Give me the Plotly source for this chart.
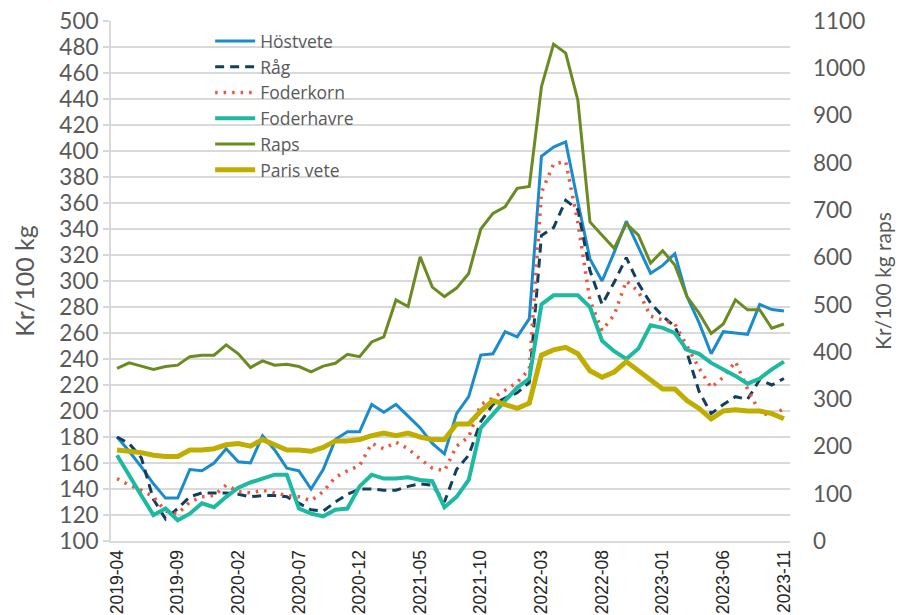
import pandas as pd
import plotly.graph_objects as go

months = [p.strftime("%Y-%m") for p in pd.period_range("2019-04", "2023-11", freq="M")]
tick_labels = ["2019-04", "2019-09", "2020-02", "2020-07", "2020-12", "2021-05",
               "2021-10", "2022-03", "2022-08", "2023-01", "2023-06", "2023-11"]

hostvete = [180, 169, 157, 144, 133, 133, 155, 154, 160, 171, 161, 160, 181, 170, 156, 154,
            140, 155, 178, 184, 184, 205, 199, 205, 196, 187, 175, 167, 198, 211, 243, 244,
            261, 257, 271, 396, 403, 407, 361, 317, 300, 322, 346, 326, 306, 312, 321, 288,
            268, 244, 261, 260, 259, 282, 278, 277]
rag = [180, 175, 164, 132, 117, 125, 134, 137, 137, 137, 136, 134, 135, 135, 134, 129,
       124, 123, 130, 136, 140, 140, 139, 139, 142, 144, 143, 130, 155, 166, 192, 205,
       210, 214, 222, 335, 341, 362, 355, 308, 282, 299, 318, 298, 283, 273, 265, 245,
       215, 198, 205, 211, 209, 224, 220, 225]
foderkorn = [148, 143, 139, 134, 123, 121, 130, 134, 135, 143, 138, 137, 139, 137, 135, 134,
             131, 138, 149, 154, 158, 175, 171, 176, 171, 163, 156, 154, 173, 180, 205, 210,
             216, 222, 232, 368, 390, 392, 345, 285, 262, 274, 300, 292, 273, 270, 267, 250,
             233, 218, 226, 238, 217, 199, 196, 202]
foderhavre = [166, 150, 135, 120, 125, 116, 121, 129, 126, 134, 141, 145, 148, 151, 151, 125,
              121, 119, 124, 125, 142, 151, 148, 148, 149, 147, 146, 126, 134, 147, 187, 198,
              208, 218, 225, 282, 289, 289, 289, 280, 254, 246, 240, 248, 266, 264, 260, 247,
              244, 237, 232, 227, 221, 225, 232, 238]
raps = [365, 377, 370, 363, 369, 372, 390, 393, 393, 415, 396, 367, 381, 372, 374, 369,
        358, 370, 376, 395, 390, 421, 432, 510, 496, 601, 537, 517, 535, 566, 660, 693,
        707, 746, 750, 961, 1051, 1032, 933, 675, 647, 619, 671, 647, 588, 614, 584, 517,
        482, 439, 459, 510, 489, 489, 450, 459]
paris_vete = [170, 169, 168, 166, 165, 165, 170, 170, 171, 174, 175, 173, 178, 174, 170, 170,
              169, 172, 177, 177, 178, 181, 183, 181, 183, 180, 178, 178, 190, 190, 200, 208,
              205, 202, 206, 243, 247, 249, 244, 231, 226, 230, 238, 231, 223, 217, 217, 208,
              202, 194, 200, 201, 200, 200, 198, 194]

FONT = "Lato, 'Open Sans', sans-serif"
LEG_FONT = "'Open Sans', Lato, sans-serif"
GRAY = "#595959"

fig = go.Figure()
series = [
    ("Höstvete", hostvete, "#1a8bcb", 3, "solid", "y"),
    ("Råg", rag, "#133f5e", 3, "9px,6px", "y"),
    ("Foderkorn", foderkorn, "#e9573f", 3.5, "2.5px,6px", "y"),
    ("Foderhavre", foderhavre, "#1db9a0", 4, "solid", "y"),
    ("Raps", raps, "#6b8b22", 3, "solid", "y2"),
    ("Paris vete", paris_vete, "#bfae00", 5, "solid", "y"),
]
for name, vals, color, w, dash, ax in series:
    fig.add_trace(go.Scatter(x=months, y=vals, name=name, mode="lines", yaxis=ax,
                             line=dict(color=color, width=w, dash=dash)))

fig.update_layout(
    width=896, height=607,
    margin=dict(l=103, r=114, t=13, b=74),
    paper_bgcolor="white", plot_bgcolor="white",
    font=dict(family=FONT, color=GRAY),
    showlegend=True,
    legend=dict(x=0.146, y=0.996, xanchor="left", yanchor="top",
                bgcolor="rgba(255,255,255,0)", font=dict(size=17.5, color=GRAY, family=LEG_FONT),
                tracegroupgap=0, itemwidth=40),
    xaxis=dict(type="category", categoryorder="array", categoryarray=months,
               range=[-0.5, len(months) - 0.5], automargin=False,
               tickmode="array", tickvals=tick_labels, ticktext=tick_labels,
               tickangle=-90, tickfont=dict(family="Liberation Sans, Arial", size=17.5, color="#262626"),
               showgrid=False, showline=True, linecolor="#d9d9d9", linewidth=2,
               ticks="", zeroline=False),
    yaxis=dict(range=[100, 500], dtick=20, tick0=100, showgrid=True, gridcolor="#d9d9d9",
               gridwidth=2, showline=True, linecolor="#d9d9d9", linewidth=2, automargin=False,
               ticks="outside", ticklen=6, tickcolor="#d9d9d9", tickwidth=2,
               ticklabeloverflow="allow",
               tickfont=dict(size=22.5, color=GRAY, family=FONT), zeroline=False,
               title=dict(text="Kr/100 kg", font=dict(size=25, color=GRAY, family=FONT), standoff=18)),
    yaxis2=dict(range=[0, 1100], dtick=100, tick0=0, overlaying="y", side="right",
                showgrid=False, showline=False, ticks="", ticklabelstandoff=22, automargin=False,
                ticklabeloverflow="allow",
                tickfont=dict(size=22.5, color=GRAY, family=FONT), zeroline=False,
                title=dict(text="Kr/100 kg raps", font=dict(size=21, color=GRAY, family=FONT), standoff=12)),
)

fig.write_html("out.html")
